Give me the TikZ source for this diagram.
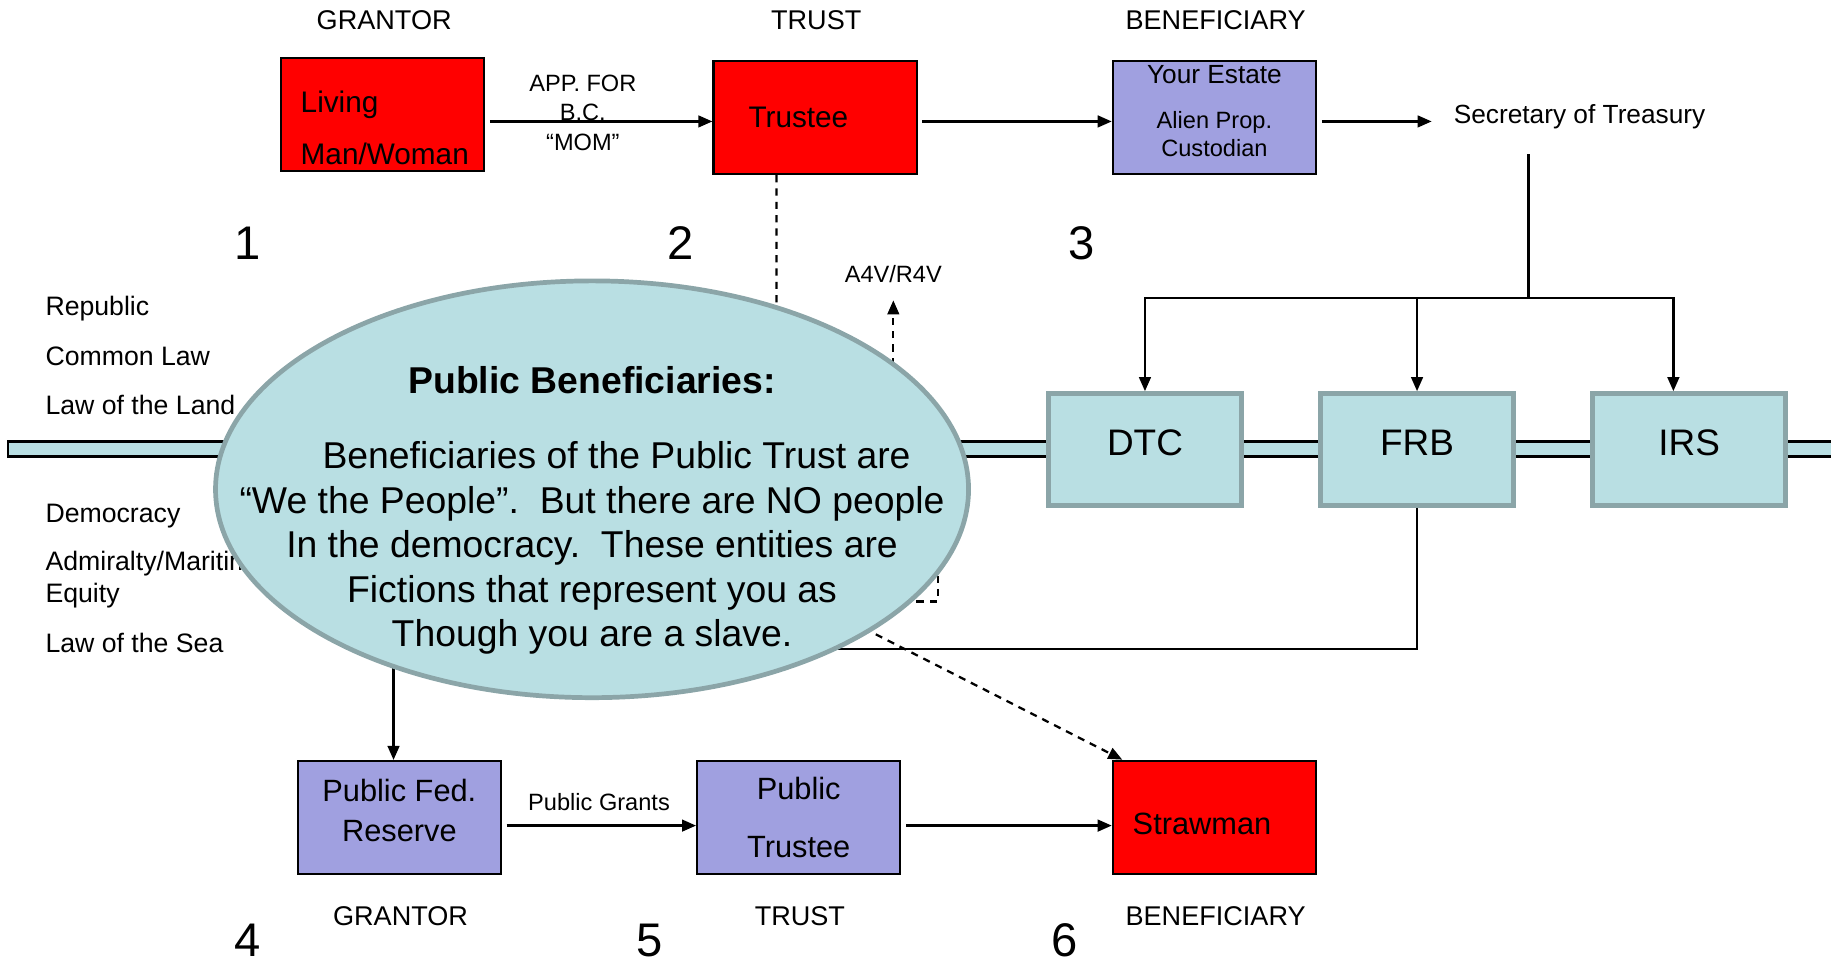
\documentclass[tikz,border=0pt]{standalone}
\usepackage{fontspec}
\setmainfont{Liberation Sans}
\usetikzlibrary{arrows.meta,shapes.geometric}
\definecolor{boxred}{RGB}{255,0,0}
\definecolor{lavender}{RGB}{160,160,224}
\definecolor{paleblue}{RGB}{185,223,227}
\definecolor{greyedge}{RGB}{139,165,168}
\begin{document}
\begin{tikzpicture}[x=0.02cm,y=-0.02cm,line width=1.1pt,
  >={Triangle[length=0.24cm,width=0.2cm]},
  redbox/.style={draw,fill=boxred,minimum width=3.48cm,minimum height=1.94cm,inner ysep=0pt,inner xsep=0.34cm,text width=2.8cm,align=left,font=\fontsize{14.5}{25.5}\selectfont},
  purplebox/.style={draw,fill=lavender,minimum width=3.48cm,minimum height=1.93cm,inner sep=0pt,align=center,font=\fontsize{15}{19.3}\selectfont},
  cyanbox/.style={draw=greyedge,line width=2.3pt,fill=paleblue,minimum width=3.3cm,minimum height=1.92cm,inner sep=0pt,text depth=0.24cm,font=\fontsize{18}{21}\selectfont},
  heading/.style={font=\fontsize{13.2}{15}\selectfont},
  sidenote/.style={anchor=west,inner sep=0pt,font=\fontsize{13}{15}\selectfont},
  stepno/.style={inner sep=0pt,font=\fontsize{23}{27}\selectfont},
  flowlabel/.style={font=\fontsize{11.5}{14.5}\selectfont,align=center},
  flow/.style={->,shorten <=0.08cm},
  dashline/.style={dash pattern=on 3.5pt off 3pt}]
\useasboundingbox (0,0) rectangle (1568,827);

\node[heading] (topgrantor) at (329,17) {GRANTOR};
\node[heading] (toptrust) at (699,17) {TRUST};
\node[heading] (topbenef) at (1041,17) {BENEFICIARY};
\node[heading] (botgrantor) at (343,785) {GRANTOR};
\node[heading] (bottrust) at (685,785) {TRUST};
\node[heading] (botbenef) at (1041,785) {BENEFICIARY};

\node[stepno] (n1) at (212,208) {1};
\node[stepno] (n2) at (583,208) {2};
\node[stepno] (n3) at (926,208) {3};
\node[stepno] (n4) at (212,805) {4};
\node[stepno] (n5) at (556,805) {5};
\node[stepno] (n6) at (912,805) {6};

\node[sidenote] (republic) at (38,264) {Republic};
\node[sidenote] (commonlaw) at (38,305) {Common Law};
\node[sidenote] (landlaw) at (38,347) {Law of the Land};
\node[sidenote] (democracy) at (38,442) {Democracy};
\node[sidenote] (admiralty) at (38,483) {Admiralty/Maritime};
\node[sidenote] (equity) at (38,510) {Equity};
\node[sidenote] (sealaw) at (38,551) {Law of the Sea};

\draw[fill=paleblue] (7,378) rectangle (1580,391);

\node[redbox] (living) at (327.5,98) {\rule{0pt}{23.4pt}Living\\Man/Woman};
\node[redbox,inner xsep=0.6cm,text width=2.28cm] (trustee) at (698,100.5) {Trustee};
\node[purplebox,font=\fontsize{11.5}{13.6}\selectfont] (estate) at (1040,100.5) {{\fontsize{12.8}{13.6}\selectfont Your Estate}\\[8.4pt]Alien Prop.\\Custodian\rule[-6.2pt]{0pt}{6.2pt}};
\node[font=\fontsize{12.8}{15}\selectfont,anchor=west,inner sep=0pt] (sec) at (1244,100) {Secretary of Treasury};

\node[cyanbox] (dtc) at (980.5,385) {DTC};
\node[cyanbox] (frb) at (1213.5,385) {FRB};
\node[cyanbox] (irs) at (1446.5,385) {IRS};

\node[purplebox] (fedres) at (342,700) {Public Fed.\\Reserve\rule[-6.8pt]{0pt}{6.8pt}};
\node[purplebox,font=\fontsize{15}{28.3}\selectfont] (pubtrustee) at (684,700) {Public\\Trustee};
\node[redbox,font=\fontsize{15}{18}\selectfont] (strawman) at (1040,700) {\rule{0pt}{16.4pt}Strawman};

\node[flowlabel] (a4v) at (765,235) {A4V/R4V};

\draw[flow] ([yshift=-0.12cm]living.east) -- ([yshift=-0.12cm]living.east -| trustee.west)
  node[flowlabel,pos=0.43,yshift=0.15cm] (appfor) {APP. FOR\\B.C.\\“MOM”};
\draw[flow] ([yshift=-0.07cm]trustee.east) -- ([yshift=-0.07cm]trustee.east -| estate.west);
\draw[flow,shorten >=0.36cm] ([yshift=-0.07cm]estate.east) -- ([yshift=-0.07cm]estate.east -| sec.west);

\coordinate (sectop) at (1309,132);
\coordinate (split) at (1309,255);
\draw (sectop) -- (split);
\draw[->] (split) -| (dtc.north);
\draw[->] (split) -| (frb.north);
\draw[->] (split) -| ([xshift=-0.27cm]irs.north);

\coordinate (bend) at (337,556);
\draw[->] (frb.south) |- (bend) -- (bend |- fedres.north);

\draw[flow] ([yshift=-0.14cm]fedres.east) -- ([yshift=-0.14cm]fedres.east -| pubtrustee.west)
  node[flowlabel,above=3.5pt,midway] (grants) {Public Grants};
\draw[flow] ([yshift=-0.14cm]pubtrustee.east) -- ([yshift=-0.14cm]pubtrustee.east -| strawman.west);

\coordinate (tdrop) at (665,500);
\draw[dashline,->] (tdrop |- trustee.south) -- (tdrop) -- ([xshift=0.18cm]strawman.north west);
\coordinate (acorner) at (803,515);
\draw[dashline,->,shorten >=0.16cm] (acorner |- 0,470) -- (acorner) -| (a4v.south);

\node[ellipse,draw=greyedge,line width=2.3pt,fill=paleblue,minimum width=12.9cm,minimum height=7.14cm,inner sep=0pt] (pubben) at (507,419) {};
\node[align=center,font=\fontsize{18.2}{21.7}\selectfont] (pubtext) at (507,437)
  {{\bfseries Public Beneficiaries:}\\[15.2pt]
   \hspace*{0.84cm}Beneficiaries of the Public Trust are\\
   “We the People”.\ \ But there are NO people\\
   In the democracy.\ \ These entities are\\
   Fictions that represent you as\\
   Though you are a slave.};
\end{tikzpicture}
\end{document}
